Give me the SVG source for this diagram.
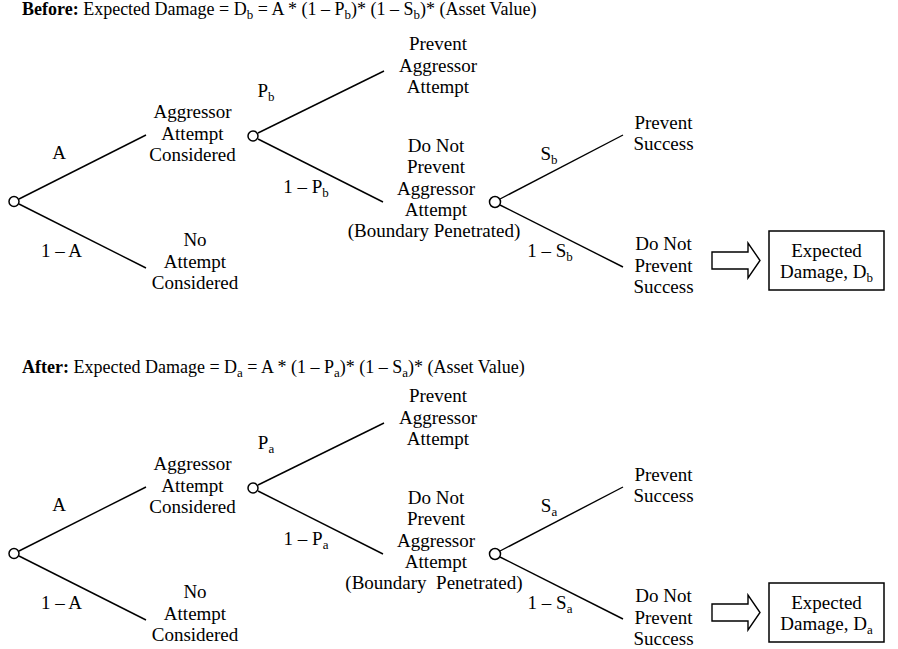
<svg xmlns="http://www.w3.org/2000/svg" width="898" height="649" viewBox="0 0 898 649">
<style>
text{font-family:"Liberation Serif","Times New Roman",serif;fill:#000}
.t{font-size:19px;text-anchor:middle}
.title{font-size:18px;text-anchor:start}
.sub{font-size:13px}
.ln{stroke:#000;stroke-width:1.4;fill:none}
.node{fill:#fff;stroke:#000;stroke-width:1.5}
.arr{fill:#fff;stroke:#000;stroke-width:1.4}
.box{fill:#fff;stroke:#000;stroke-width:1.5}
</style>

<g id="before">
  <text class="title" x="22" y="15"><tspan font-weight="bold">Before:</tspan> Expected Damage = D<tspan class="sub" dy="4">b</tspan><tspan dy="-4"> = A * (1 – P</tspan><tspan class="sub" dy="4">b</tspan><tspan dy="-4">)* (1 – S</tspan><tspan class="sub" dy="4">b</tspan><tspan dy="-4">)* (Asset Value)</tspan></text>
  <g id="b-connectors">
    <line class="ln" x1="19" y1="199" x2="146" y2="135"/>
    <line class="ln" x1="19" y1="204" x2="146" y2="268"/>
    <line class="ln" x1="258" y1="133" x2="384" y2="71"/>
    <line class="ln" x1="258" y1="139" x2="383" y2="202"/>
    <line class="ln" x1="500" y1="199" x2="623" y2="135"/>
    <line class="ln" x1="500" y1="205" x2="623" y2="267"/>
    <path class="arr" d="M712,252 H748 V243 L760,260.5 L748,278 V269 H712 Z"/>
    <text class="t" x="59" y="159">A</text>
    <text class="t" x="61.5" y="257">1 – A</text>
    <text class="t" x="266" y="97">P<tspan class="sub" dy="4">b</tspan></text>
    <text class="t" x="306" y="193">1 – P<tspan class="sub" dy="4">b</tspan></text>
    <text class="t" x="549" y="160">S<tspan class="sub" dy="4">b</tspan></text>
    <text class="t" x="550" y="257">1 – S<tspan class="sub" dy="4">b</tspan></text>
  </g>
  <g id="b-root"><circle class="node" cx="14" cy="201.5" r="5"/></g>
  <g id="b-considered">
    <circle class="node" cx="253" cy="136" r="5"/>
    <text class="t" x="192.5" y="118">Aggressor</text>
    <text class="t" x="192.5" y="139.5">Attempt</text>
    <text class="t" x="192.5" y="161">Considered</text>
  </g>
  <g id="b-no-attempt">
    <text class="t" x="195" y="246">No</text>
    <text class="t" x="195" y="267.5">Attempt</text>
    <text class="t" x="195" y="289">Considered</text>
  </g>
  <g id="b-prevent-attempt">
    <text class="t" x="438" y="50">Prevent</text>
    <text class="t" x="438" y="71.5">Aggressor</text>
    <text class="t" x="438" y="93">Attempt</text>
  </g>
  <g id="b-penetrated">
    <circle class="node" cx="495" cy="202" r="5.5"/>
    <text class="t" x="436" y="151.5">Do Not</text>
    <text class="t" x="436" y="173">Prevent</text>
    <text class="t" x="436" y="194.5">Aggressor</text>
    <text class="t" x="436" y="216">Attempt</text>
    <text class="t" x="434" y="237">(Boundary Penetrated)</text>
  </g>
  <g id="b-prevent-success">
    <text class="t" x="663.5" y="128.5">Prevent</text>
    <text class="t" x="663.5" y="150">Success</text>
  </g>
  <g id="b-not-prevent-success">
    <text class="t" x="663.5" y="250">Do Not</text>
    <text class="t" x="663.5" y="271.5">Prevent</text>
    <text class="t" x="663.5" y="293">Success</text>
  </g>
  <g id="b-damage">
    <rect class="box" x="769" y="231" width="115" height="59"/>
    <text class="t" x="826.5" y="257">Expected</text>
    <text class="t" x="826.5" y="278">Damage, D<tspan class="sub" dy="4">b</tspan></text>
  </g>
</g>

<g id="after">
  <text class="title" x="22" y="373"><tspan font-weight="bold">After:</tspan> Expected Damage = D<tspan class="sub" dy="4">a</tspan><tspan dy="-4"> = A * (1 – P</tspan><tspan class="sub" dy="4">a</tspan><tspan dy="-4">)* (1 – S</tspan><tspan class="sub" dy="4">a</tspan><tspan dy="-4">)* (Asset Value)</tspan></text>
  <g transform="translate(0,352)">
    <g id="a-connectors">
      <line class="ln" x1="19" y1="199" x2="146" y2="135"/>
      <line class="ln" x1="19" y1="204" x2="146" y2="268"/>
      <line class="ln" x1="258" y1="133" x2="384" y2="71"/>
      <line class="ln" x1="258" y1="139" x2="383" y2="202"/>
      <line class="ln" x1="500" y1="199" x2="623" y2="135"/>
      <line class="ln" x1="500" y1="205" x2="623" y2="267"/>
      <path class="arr" d="M712,252 H748 V243 L760,260.5 L748,278 V269 H712 Z"/>
      <text class="t" x="59" y="159">A</text>
      <text class="t" x="61.5" y="257">1 – A</text>
      <text class="t" x="266" y="97">P<tspan class="sub" dy="4">a</tspan></text>
      <text class="t" x="306" y="193">1 – P<tspan class="sub" dy="4">a</tspan></text>
      <text class="t" x="549" y="160">S<tspan class="sub" dy="4">a</tspan></text>
      <text class="t" x="550" y="257">1 – S<tspan class="sub" dy="4">a</tspan></text>
    </g>
    <g id="a-root"><circle class="node" cx="14" cy="201.5" r="5"/></g>
    <g id="a-considered">
      <circle class="node" cx="253" cy="136" r="5"/>
      <text class="t" x="192.5" y="118">Aggressor</text>
      <text class="t" x="192.5" y="139.5">Attempt</text>
      <text class="t" x="192.5" y="161">Considered</text>
    </g>
    <g id="a-no-attempt">
      <text class="t" x="195" y="246">No</text>
      <text class="t" x="195" y="267.5">Attempt</text>
      <text class="t" x="195" y="289">Considered</text>
    </g>
    <g id="a-prevent-attempt">
      <text class="t" x="438" y="50">Prevent</text>
      <text class="t" x="438" y="71.5">Aggressor</text>
      <text class="t" x="438" y="93">Attempt</text>
    </g>
    <g id="a-penetrated">
      <circle class="node" cx="495" cy="202" r="5.5"/>
      <text class="t" x="436" y="151.5">Do Not</text>
      <text class="t" x="436" y="173">Prevent</text>
      <text class="t" x="436" y="194.5">Aggressor</text>
      <text class="t" x="436" y="216">Attempt</text>
      <text class="t" x="434" y="237" xml:space="preserve">(Boundary  Penetrated)</text>
    </g>
    <g id="a-prevent-success">
      <text class="t" x="663.5" y="128.5">Prevent</text>
      <text class="t" x="663.5" y="150">Success</text>
    </g>
    <g id="a-not-prevent-success">
      <text class="t" x="663.5" y="250">Do Not</text>
      <text class="t" x="663.5" y="271.5">Prevent</text>
      <text class="t" x="663.5" y="293">Success</text>
    </g>
    <g id="a-damage">
      <rect class="box" x="769" y="231" width="115" height="59"/>
      <text class="t" x="826.5" y="257">Expected</text>
      <text class="t" x="826.5" y="278">Damage, D<tspan class="sub" dy="4">a</tspan></text>
    </g>
  </g>
</g>
</svg>
